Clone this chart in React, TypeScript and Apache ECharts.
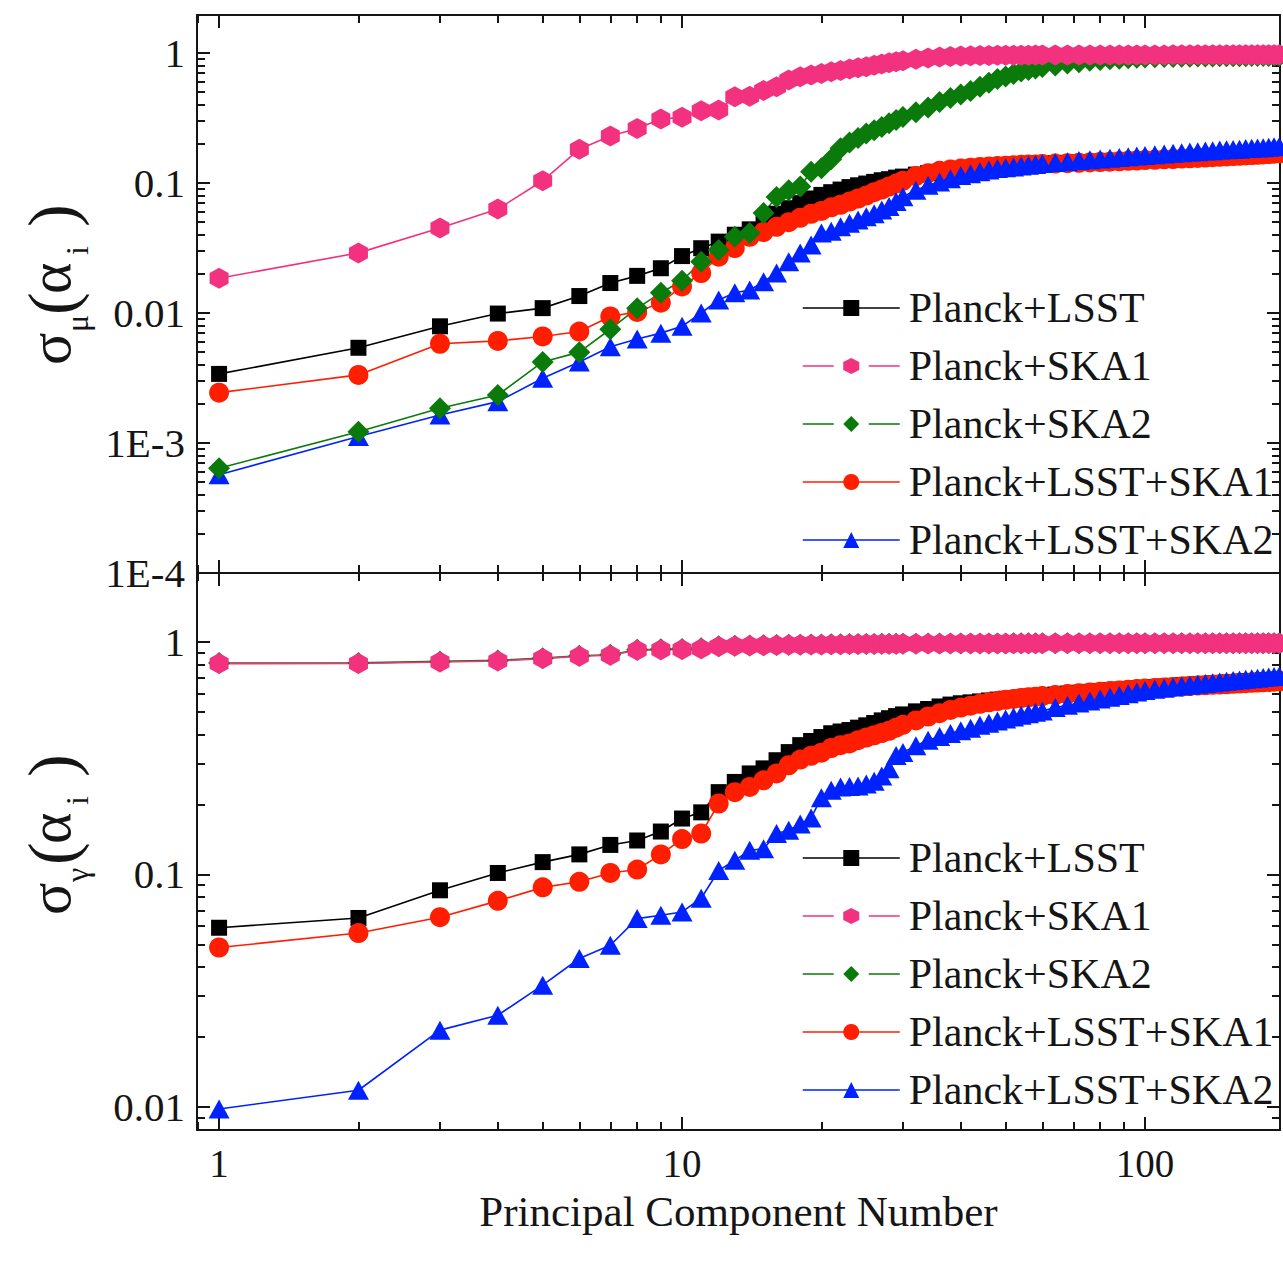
import React, { useEffect, useRef } from 'react';
import * as echarts from 'echarts';

// Principal component index shared by every curve
const pcNumbers = [
  1, 2, 3, 4, 5, 6, 7, 8, 9, 10, 11, 12, 13, 14, 15, 16, 17, 18, 19, 20,
  21, 22, 23, 24, 25, 26, 27, 28, 29, 30,
  32, 34, 36, 38, 40, 42, 44, 46, 48, 50, 52, 54, 56, 58, 60,
  64, 68, 72, 76, 80, 84, 88, 92, 96, 100,
  105, 110, 115, 120, 125, 130, 135, 140, 145, 150, 155, 160, 165, 170, 175, 180, 185, 190, 195,
];

const seriesNames = ['Planck+LSST', 'Planck+SKA1', 'Planck+SKA2', 'Planck+LSST+SKA1', 'Planck+LSST+SKA2'];

// ---- sigma_mu(alpha_i) ----
const muLsst = [
  0.0034, 0.0054, 0.0079, 0.0099, 0.0109, 0.0135, 0.0170, 0.0193, 0.0221, 0.0274, 0.0315, 0.0354,
  0.040, 0.044, 0.051, 0.058, 0.064, 0.070, 0.076, 0.081, 0.085, 0.089, 0.093, 0.096, 0.099, 0.102, 0.105, 0.107, 0.110, 0.112,
  0.116, 0.119, 0.122, 0.124, 0.126, 0.128, 0.130, 0.132, 0.133, 0.135, 0.136, 0.137, 0.138, 0.139, 0.140,
  0.142, 0.143, 0.144, 0.145, 0.146, 0.147, 0.148, 0.149, 0.150, 0.151,
  0.152, 0.153, 0.154, 0.155, 0.156, 0.157, 0.158, 0.159, 0.160, 0.161, 0.162, 0.163, 0.164, 0.165, 0.166, 0.167, 0.168, 0.169, 0.170,
];
const muSka1 = [
  0.0185, 0.029, 0.045, 0.063, 0.104, 0.182, 0.230, 0.263, 0.310, 0.320, 0.360, 0.365,
  0.461, 0.465, 0.515, 0.550, 0.620, 0.657, 0.677, 0.695, 0.718, 0.735, 0.753, 0.770, 0.785, 0.805, 0.823, 0.840, 0.857, 0.870,
  0.895, 0.915, 0.930, 0.940, 0.948, 0.952, 0.955, 0.957, 0.959, 0.960, 0.961, 0.962, 0.962, 0.963, 0.963,
  0.964, 0.964, 0.965, 0.965, 0.965, 0.966, 0.966, 0.966, 0.967, 0.967,
  0.967, 0.967, 0.968, 0.968, 0.968, 0.968, 0.969, 0.969, 0.969, 0.969, 0.970, 0.970, 0.970, 0.970, 0.970, 0.971, 0.971, 0.971, 0.971,
];
const muSka2 = [
  0.00064, 0.00122, 0.00185, 0.00234, 0.0042, 0.0050, 0.0075, 0.0109, 0.0143, 0.0177, 0.0248, 0.0305,
  0.0386, 0.0412, 0.0588, 0.078, 0.088, 0.094, 0.122, 0.130, 0.152, 0.185, 0.205, 0.222, 0.240, 0.255, 0.270, 0.288, 0.305, 0.322,
  0.35, 0.38, 0.42, 0.45, 0.48, 0.51, 0.55, 0.59, 0.63, 0.66, 0.69, 0.72, 0.74, 0.76, 0.78,
  0.80, 0.83, 0.85, 0.87, 0.885, 0.895, 0.905, 0.912, 0.918, 0.923,
  0.927, 0.930, 0.932, 0.934, 0.936, 0.938, 0.940, 0.941, 0.942, 0.943, 0.944, 0.945, 0.946, 0.947, 0.948, 0.948, 0.949, 0.950, 0.950,
];
const muLsstSka1 = [
  0.00244, 0.00334, 0.0058, 0.0061, 0.0066, 0.0072, 0.0094, 0.0102, 0.0120, 0.0160, 0.0203, 0.0271,
  0.0316, 0.0386, 0.042, 0.046, 0.050, 0.054, 0.058, 0.061, 0.065, 0.068, 0.072, 0.076, 0.080, 0.085, 0.089, 0.094, 0.099, 0.104,
  0.113, 0.119, 0.124, 0.127, 0.129, 0.131, 0.133, 0.134, 0.135, 0.136, 0.137, 0.138, 0.139, 0.139, 0.140,
  0.141, 0.142, 0.143, 0.144, 0.145, 0.146, 0.147, 0.148, 0.149, 0.150,
  0.151, 0.152, 0.153, 0.154, 0.155, 0.156, 0.157, 0.158, 0.159, 0.160, 0.161, 0.162, 0.163, 0.164, 0.165, 0.166, 0.167, 0.168, 0.169,
];
const muLsstSka2 = [
  0.00057, 0.00112, 0.00164, 0.00208, 0.00315, 0.0042, 0.0055, 0.0063, 0.0070, 0.0079, 0.0100, 0.0126,
  0.0143, 0.0150, 0.0174, 0.0203, 0.0248, 0.029, 0.0333, 0.0412, 0.0425, 0.046, 0.049, 0.052, 0.055, 0.058, 0.062, 0.066, 0.072, 0.0785,
  0.088, 0.096, 0.102, 0.108, 0.114, 0.118, 0.122, 0.126, 0.129, 0.131, 0.133, 0.135, 0.137, 0.139, 0.141,
  0.144, 0.146, 0.149, 0.151, 0.153, 0.155, 0.157, 0.159, 0.161, 0.163,
  0.165, 0.167, 0.169, 0.171, 0.173, 0.174, 0.176, 0.177, 0.179, 0.180, 0.181, 0.182, 0.184, 0.185, 0.186, 0.187, 0.188, 0.190, 0.191,
];

// ---- sigma_gamma(alpha_i) ----
const gammaLsst = [
  0.059, 0.065, 0.0855, 0.1015, 0.113, 0.122, 0.134, 0.140, 0.153, 0.174, 0.185, 0.226,
  0.250, 0.272, 0.286, 0.310, 0.336, 0.360, 0.375, 0.390, 0.405, 0.412, 0.418, 0.428, 0.438, 0.448, 0.460, 0.470, 0.480, 0.488,
  0.503, 0.515, 0.528, 0.538, 0.545, 0.550, 0.555, 0.560, 0.565, 0.570, 0.574, 0.578, 0.582, 0.585, 0.588,
  0.594, 0.600, 0.605, 0.610, 0.615, 0.620, 0.624, 0.628, 0.632, 0.636,
  0.640, 0.644, 0.648, 0.652, 0.655, 0.658, 0.661, 0.664, 0.667, 0.670, 0.673, 0.676, 0.678, 0.680, 0.682, 0.684, 0.686, 0.688, 0.690,
];
const gammaSka1 = [
  0.807, 0.808, 0.820, 0.828, 0.848, 0.868, 0.877, 0.921, 0.927, 0.928, 0.936, 0.955,
  0.960, 0.963, 0.966, 0.968, 0.970, 0.972, 0.973, 0.974, 0.975, 0.976, 0.977, 0.978, 0.979, 0.980, 0.980, 0.981, 0.981, 0.982,
  0.982, 0.983, 0.983, 0.984, 0.984, 0.984, 0.985, 0.985, 0.985, 0.985, 0.986, 0.986, 0.986, 0.986, 0.986,
  0.987, 0.987, 0.987, 0.987, 0.987, 0.987, 0.987, 0.987, 0.987, 0.987,
  0.987, 0.987, 0.988, 0.988, 0.988, 0.988, 0.988, 0.988, 0.988, 0.988, 0.988, 0.988, 0.988, 0.988, 0.988, 0.988, 0.988, 0.988, 0.988,
];
const gammaSka2 = [
  0.812, 0.813, 0.825, 0.833, 0.852, 0.872, 0.881, 0.925, 0.931, 0.932, 0.940, 0.958,
  0.963, 0.966, 0.968, 0.970, 0.972, 0.974, 0.975, 0.976, 0.977, 0.978, 0.979, 0.980, 0.981, 0.981, 0.982, 0.982, 0.983, 0.983,
  0.983, 0.984, 0.984, 0.985, 0.985, 0.985, 0.986, 0.986, 0.986, 0.986, 0.987, 0.987, 0.987, 0.987, 0.987,
  0.988, 0.988, 0.988, 0.988, 0.988, 0.988, 0.988, 0.988, 0.988, 0.988,
  0.988, 0.988, 0.988, 0.988, 0.988, 0.988, 0.988, 0.988, 0.988, 0.988, 0.988, 0.988, 0.988, 0.988, 0.988, 0.988, 0.988, 0.988, 0.988,
];
const gammaLsstSka1 = [
  0.0485, 0.056, 0.0655, 0.077, 0.088, 0.093, 0.1015, 0.105, 0.122, 0.142, 0.150, 0.202,
  0.226, 0.238, 0.254, 0.272, 0.295, 0.312, 0.324, 0.334, 0.350, 0.360, 0.366, 0.378, 0.388, 0.397, 0.406, 0.415, 0.428, 0.440,
  0.460, 0.478, 0.494, 0.510, 0.522, 0.532, 0.542, 0.550, 0.557, 0.564, 0.569, 0.574, 0.578, 0.582, 0.585,
  0.591, 0.597, 0.602, 0.607, 0.611, 0.615, 0.619, 0.623, 0.627, 0.630,
  0.634, 0.637, 0.640, 0.643, 0.646, 0.649, 0.651, 0.654, 0.656, 0.658, 0.661, 0.663, 0.665, 0.667, 0.669, 0.671, 0.673, 0.675, 0.677,
];
const gammaLsstSka2 = [
  0.0098, 0.0118, 0.0214, 0.0248, 0.0334, 0.0435, 0.0496, 0.0646, 0.0668, 0.069, 0.079, 0.104,
  0.115, 0.127, 0.129, 0.150, 0.155, 0.165, 0.175, 0.214, 0.230, 0.238, 0.239, 0.240, 0.245, 0.252, 0.265, 0.285, 0.325, 0.335,
  0.358, 0.378, 0.392, 0.404, 0.415, 0.426, 0.438, 0.447, 0.457, 0.466, 0.476, 0.484, 0.491, 0.498, 0.505,
  0.522, 0.534, 0.546, 0.557, 0.568, 0.579, 0.589, 0.599, 0.609, 0.618,
  0.626, 0.633, 0.640, 0.646, 0.652, 0.658, 0.663, 0.668, 0.673, 0.678, 0.683, 0.687, 0.691, 0.695, 0.699, 0.703, 0.707, 0.710, 0.714,
];

const FONT = '"Liberation Serif", "Times New Roman", serif';
const INK = '#151515';

// Axis ranges of the two stacked panels
const X_MIN = 0.896;
const X_MAX = 195.7;
const MU_MIN = 1e-4;
const MU_MAX = 1.96;
const GAMMA_MIN = 0.00796;
const GAMMA_MAX = 1.98;

const HEXAGON = 'path://M0,-10L8.66,-5L8.66,5L0,10L-8.66,5L-8.66,-5Z';

const seriesStyle: Record<string, any> = {
  'Planck+LSST': { color: '#000000', symbol: 'rect', size: 16, dashed: false },
  'Planck+SKA1': { color: '#F2327E', symbol: HEXAGON, size: [19, 21], dashed: true },
  'Planck+SKA2': { color: '#0A7A0A', symbol: 'diamond', size: 22, dashed: true },
  'Planck+LSST+SKA1': { color: '#FF1E00', symbol: 'circle', size: 20, dashed: false },
  'Planck+LSST+SKA2': { color: '#0022FF', symbol: 'triangle', size: [21, 19], dashed: false },
};

// Painting order (later ones sit on top)
const drawOrder = ['Planck+LSST', 'Planck+LSST+SKA1', 'Planck+LSST+SKA2', 'Planck+SKA2', 'Planck+SKA1'];

const panelValues: Record<string, number[]>[] = [
  {
    'Planck+LSST': muLsst,
    'Planck+SKA1': muSka1,
    'Planck+SKA2': muSka2,
    'Planck+LSST+SKA1': muLsstSka1,
    'Planck+LSST+SKA2': muLsstSka2,
  },
  {
    'Planck+LSST': gammaLsst,
    'Planck+SKA1': gammaSka1,
    'Planck+SKA2': gammaSka2,
    'Planck+LSST+SKA1': gammaLsstSka1,
    'Planck+LSST+SKA2': gammaLsstSka2,
  },
];

function decadeLabel(v: number): string {
  const e = Math.log10(v);
  const k = Math.round(e);
  if (Math.abs(e - k) > 1e-6) return '';
  if (k >= 0) return String(Math.pow(10, k));
  if (k >= -2) return k === -1 ? '0.1' : '0.01';
  return `1E${k}`;
}

function minorTicks(lo: number, hi: number): number[] {
  const out: number[] = [];
  for (let e = Math.floor(Math.log10(lo)); e <= Math.ceil(Math.log10(hi)); e++) {
    for (let k = 2; k <= 9; k++) {
      const v = +(k * Math.pow(10, e)).toPrecision(6);
      if (v > lo && v < hi) out.push(v);
    }
  }
  return out;
}

const lineStyle = { color: INK, width: 2 };

function xAxesFor(grid: number, withLabels: boolean) {
  const base = {
    type: 'log',
    logBase: 10,
    gridIndex: grid,
    min: X_MIN,
    max: X_MAX,
    splitLine: { show: false },
    axisPointer: { show: false },
  };
  const minor = minorTicks(X_MIN, X_MAX);
  return [
    {
      ...base,
      position: 'bottom',
      axisLine: { show: true, onZero: false, lineStyle },
      axisTick: { show: true, inside: true, length: 13, lineStyle },
      axisLabel: {
        show: withLabels,
        formatter: decadeLabel,
        fontFamily: FONT,
        fontSize: 39,
        color: INK,
        margin: 14,
      },
      name: withLabels ? 'Principal Component Number' : '',
      nameLocation: 'middle',
      nameGap: 60,
      nameTextStyle: { fontFamily: FONT, fontSize: 43, color: INK },
    },
    {
      ...base,
      position: 'top',
      axisLine: { show: true, onZero: false, lineStyle },
      axisTick: { show: true, inside: true, length: 13, lineStyle },
      axisLabel: { show: false },
    },
    {
      ...base,
      position: 'bottom',
      axisLine: { show: false, onZero: false },
      axisTick: { show: true, inside: true, length: 8, lineStyle, customValues: minor },
      axisLabel: { show: false },
    },
    {
      ...base,
      position: 'top',
      axisLine: { show: false, onZero: false },
      axisTick: { show: true, inside: true, length: 8, lineStyle, customValues: minor },
      axisLabel: { show: false },
    },
  ];
}

function yAxesFor(grid: number, min: number, max: number) {
  const base = {
    type: 'log',
    logBase: 10,
    gridIndex: grid,
    min,
    max,
    splitLine: { show: false },
    axisPointer: { show: false },
  };
  const minor = minorTicks(min, max);
  return [
    {
      ...base,
      position: 'left',
      axisLine: { show: true, onZero: false, lineStyle },
      axisTick: { show: true, inside: true, length: 13, lineStyle },
      axisLabel: {
        show: true,
        formatter: decadeLabel,
        fontFamily: FONT,
        fontSize: 41,
        color: INK,
        margin: 12,
      },
    },
    {
      ...base,
      position: 'right',
      axisLine: { show: true, onZero: false, lineStyle },
      axisTick: { show: true, inside: true, length: 13, lineStyle },
      axisLabel: { show: false },
    },
    {
      ...base,
      position: 'left',
      axisLine: { show: false, onZero: false },
      axisTick: { show: true, inside: true, length: 8, lineStyle, customValues: minor },
      axisLabel: { show: false },
    },
    {
      ...base,
      position: 'right',
      axisLine: { show: false, onZero: false },
      axisTick: { show: true, inside: true, length: 8, lineStyle, customValues: minor },
      axisLabel: { show: false },
    },
  ];
}

function buildSeries() {
  const out: any[] = [];
  panelValues.forEach((values, p) => {
    drawOrder.forEach((name) => {
      const st = seriesStyle[name];
      out.push({
        name,
        type: 'line',
        xAxisIndex: p * 4,
        yAxisIndex: p * 4,
        data: pcNumbers.map((n, i) => [n, values[name][i]]),
        symbol: st.symbol,
        symbolSize: st.size,
        showSymbol: true,
        itemStyle: { color: st.color, borderWidth: 0 },
        lineStyle: { color: st.color, width: 1.6 },
        emphasis: { disabled: true },
        silent: true,
        animation: false,
      });
    });
  });
  return out;
}

function buildLegend(top: number) {
  return {
    orient: 'vertical',
    left: 802,
    top,
    padding: 0,
    itemWidth: 97,
    itemHeight: 20,
    itemGap: 12,
    selectedMode: false,
    textStyle: {
      fontFamily: FONT,
      fontSize: 42,
      lineHeight: 46,
      color: INK,
      padding: [0, 0, 0, 4],
    },
    data: seriesNames.map((name) => {
      const st = seriesStyle[name];
      return {
        name,
        lineStyle: { color: st.color, width: 1.5, type: st.dashed ? [31, 35] : 'solid' },
      };
    }),
  };
}

// Rotated axis title: sigma_sub(alpha_i)
function axisTitle(cx: number, baseY: number, sub: string) {
  const t = (text: string, x: number, y: number, size: number) => ({
    type: 'text',
    x,
    y,
    style: {
      text,
      fontFamily: FONT,
      fontSize: size,
      fill: INK,
      align: 'left',
      verticalAlign: 'middle',
    },
  });
  return {
    type: 'group',
    x: cx,
    y: baseY,
    rotation: Math.PI / 2,
    silent: true,
    children: [
      t('σ', 0, -5, 60),
      t(sub, 33, 22, 32),
      t('(', 50, -3, 68),
      t('α', 71, -5, 60),
      t('i', 110, 22, 32),
      t(')', 138, -3, 68),
    ],
  };
}

export default function App() {
  const ref = useRef<HTMLDivElement>(null);

  useEffect(() => {
    document.body.style.margin = '0';
    if (!ref.current) return;
    const chart = echarts.init(ref.current, null, { renderer: 'svg' });
    chart.setOption({
      animation: false,
      backgroundColor: '#ffffff',
      grid: [
        { left: 197, top: 15, width: 1083, height: 558, outerBoundsMode: 'none', containLabel: false },
        { left: 197, top: 573, width: 1083, height: 557, outerBoundsMode: 'none', containLabel: false },
      ],
      xAxis: [...xAxesFor(0, false), ...xAxesFor(1, true)],
      yAxis: [...yAxesFor(0, MU_MIN, MU_MAX), ...yAxesFor(1, GAMMA_MIN, GAMMA_MAX)],
      legend: [buildLegend(285), buildLegend(835)],
      series: buildSeries(),
      graphic: { elements: [axisTitle(55, 365, 'μ'), axisTitle(55, 915, 'γ')] },
    });
    return () => chart.dispose();
  }, []);

  return (
    <div
      ref={ref}
      style={{ position: 'absolute', left: 0, top: 0, width: 1283, height: 1263, background: '#fff' }}
    />
  );
}
